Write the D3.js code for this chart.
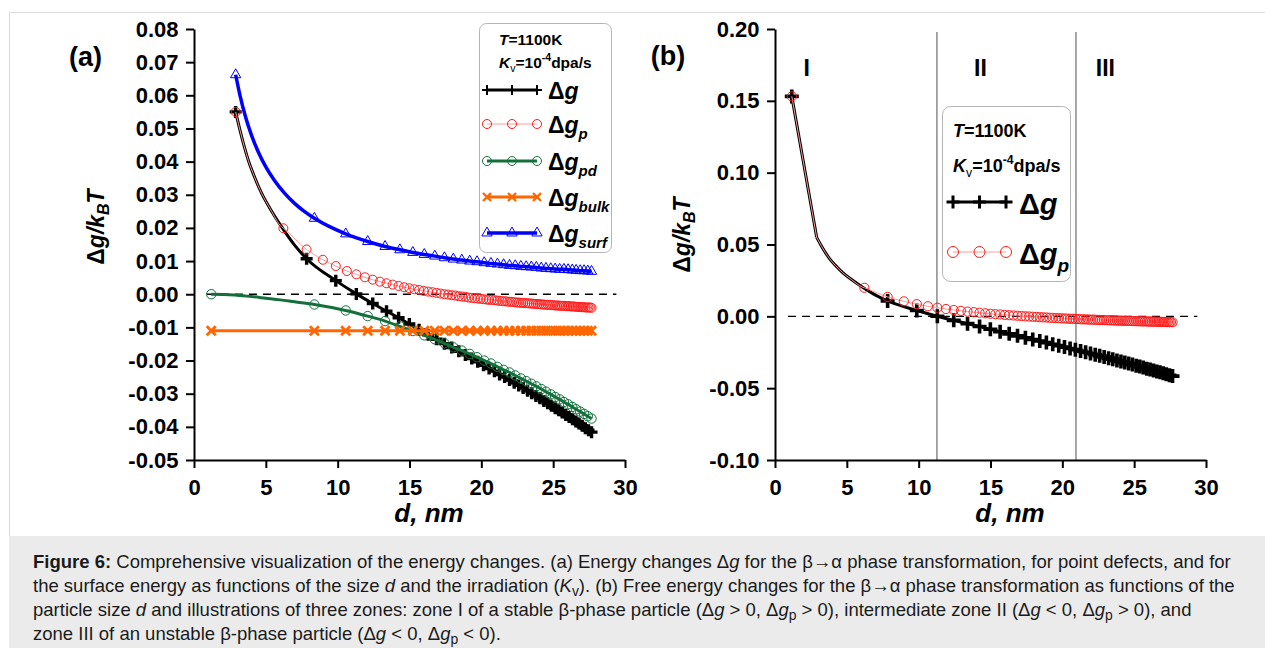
<!DOCTYPE html>
<html><head><meta charset="utf-8">
<script src="https://cdn.jsdelivr.net/npm/d3@7"></script>
<style>body{margin:0;background:#fff}svg{display:block}</style>
</head><body><svg id="c" width="1265" height="648"></svg>
<script>
// ---------------- data ----------------
const xTicks = [0, 5, 10, 15, 20, 25, 30];
const yTicksA = [-0.05, -0.04, -0.03, -0.02, -0.01, 0.00, 0.01, 0.02, 0.03, 0.04, 0.05, 0.06, 0.07, 0.08];
const yTicksB = [-0.10, -0.05, 0.00, 0.05, 0.10, 0.15, 0.20];
const zoneBounds = [11.27, 20.95];
const zoneLabels = ["I", "II", "III"];
const zoneLabelD = [2.2, 14.3, 23.0];

// Δg and Δg_p : shared head points
const dKnee = [2.9], vKnee = [0.055];          // first marker in (a), knee of the curve in (b)
const dTopB = [1.17], vTopB = [0.1531];        // first point in (b)
// curve-only points (no markers) between the knee and the first markers
const dCurve = [3.2, 3.5, 3.78, 4.2, 4.71, 5.3, 6.1, 7.0];
const vCurve = [0.0495, 0.0445, 0.0404, 0.0355, 0.0304, 0.0258, 0.0203, 0.0148];

// Δg_p (red circles)
const dGp = [6.22,7.84,8.97,9.87,10.64,11.30,11.90,12.44,12.94,13.40,
  13.83,14.24,14.63,14.99,15.34,15.67,15.99,16.30,16.60,16.88,
  17.16,17.43,17.69,17.94,18.19,18.43,18.66,18.89,19.11,19.33,
  19.54,19.75,19.95,20.15,20.35,20.54,20.73,20.91,21.09,21.27,
  21.45,21.62,21.79,21.96,22.12,22.29,22.45,22.60,22.76,22.91,
  23.07,23.22,23.36,23.51,23.65,23.80,23.94,24.08,24.21,24.35,
  24.49,24.62,24.75,24.88,25.01,25.14,25.26,25.39,25.51,25.63,
  25.76,25.88,26.00,26.11,26.23,26.35,26.46,26.58,26.69,26.80,
  26.91,27.02,27.13,27.24,27.35,27.46,27.56,27.67];
const vGp = [0.0199,0.0135,0.0104,0.0085,0.0070,0.0060,0.0051,0.0044,0.0038,0.0033,
  0.0029,0.0025,0.0021,0.0018,0.0015,0.0013,0.0010,0.0008,0.0006,0.0004,
  0.0002,0.0000,-0.0001,-0.0003,-0.0004,-0.0006,-0.0007,-0.0008,-0.0010,-0.0011,
  -0.0012,-0.0013,-0.0014,-0.0015,-0.0016,-0.0017,-0.0017,-0.0018,-0.0019,-0.0020,
  -0.0021,-0.0021,-0.0022,-0.0023,-0.0023,-0.0024,-0.0025,-0.0025,-0.0026,-0.0026,
  -0.0027,-0.0027,-0.0028,-0.0028,-0.0029,-0.0029,-0.0030,-0.0030,-0.0031,-0.0031,
  -0.0032,-0.0032,-0.0032,-0.0033,-0.0033,-0.0034,-0.0034,-0.0034,-0.0035,-0.0035,
  -0.0035,-0.0036,-0.0036,-0.0036,-0.0037,-0.0037,-0.0037,-0.0038,-0.0038,-0.0038,
  -0.0039,-0.0039,-0.0039,-0.0040,-0.0040,-0.0040,-0.0040,-0.0041];

// Δg (black plus)
const dG = [7.84,9.87,11.30,12.44,13.40,14.24,14.99,15.67,16.30,16.88,
  17.43,17.94,18.43,18.89,19.33,19.75,20.15,20.54,20.91,21.27,
  21.62,21.96,22.29,22.60,22.91,23.22,23.51,23.80,24.08,24.35,
  24.62,24.88,25.14,25.39,25.63,25.88,26.11,26.35,26.58,26.80,
  27.02,27.24,27.46,27.67];
const vG = [0.0107,0.0041,0.0001,-0.0028,-0.0051,-0.0071,-0.0090,-0.0107,-0.0122,-0.0136,
  -0.0149,-0.0161,-0.0172,-0.0183,-0.0194,-0.0204,-0.0214,-0.0224,-0.0232,-0.0242,
  -0.0250,-0.0259,-0.0267,-0.0275,-0.0283,-0.0291,-0.0299,-0.0307,-0.0314,-0.0322,
  -0.0329,-0.0336,-0.0344,-0.0350,-0.0357,-0.0364,-0.0370,-0.0377,-0.0384,-0.0390,
  -0.0397,-0.0404,-0.0410,-0.0416];

// Δg_pd, Δg_bulk, Δg_surf share one size grid
const dGrid = [8.38,10.56,12.09,13.30,14.33,15.23,16.03,16.76,17.43,18.05,
  18.64,19.19,19.70,20.20,20.67,21.12,21.55,21.96,22.36,22.75,
  23.12,23.48,23.83,24.17,24.50,24.83,25.14,25.45,25.75,26.04,
  26.33,26.60,26.88,27.15,27.41,27.67];
const dPdStart = [1.2], vPdStart = [0.0];
const dPdCurve = [2, 3, 4, 5, 6, 7];
const vPdCurve = [-0.0001, -0.0003, -0.0007, -0.0012, -0.0017, -0.0023];
const vPd = [-0.0031,-0.0049,-0.0066,-0.0081,-0.0097,-0.0111,-0.0124,-0.0136,-0.0148,-0.0160,
  -0.0170,-0.0180,-0.0190,-0.0200,-0.0209,-0.0219,-0.0228,-0.0236,-0.0245,-0.0254,
  -0.0262,-0.0270,-0.0278,-0.0286,-0.0294,-0.0302,-0.0310,-0.0317,-0.0325,-0.0332,
  -0.0340,-0.0347,-0.0354,-0.0361,-0.0368,-0.0375];
const dBulkStart = [1.2], vBulkStart = [-0.011];
const vBulk = [-0.011,-0.011,-0.011,-0.011,-0.011,-0.011,-0.011,-0.011,-0.011,-0.011,
  -0.011,-0.011,-0.011,-0.011,-0.011,-0.011,-0.011,-0.011,-0.011,-0.011,
  -0.011,-0.011,-0.011,-0.011,-0.011,-0.011,-0.011,-0.011,-0.011,-0.011,
  -0.011,-0.011,-0.011,-0.011,-0.011,-0.011];
const dSurfStart = [2.9], vSurfStart = [0.0662];
const dSurfCurve = [3.2, 3.6, 4.0, 4.5, 5.0, 5.6, 6.3, 7.0, 7.7];
const vSurfCurve = [0.0600, 0.0533, 0.0480, 0.0427, 0.0384, 0.0343, 0.0305, 0.0274, 0.0249];
const vSurf = [0.0229,0.0182,0.0159,0.0144,0.0134,0.0126,0.0120,0.0115,0.0110,0.0106,
  0.0103,0.0100,0.0098,0.0095,0.0093,0.0091,0.0089,0.0087,0.0086,0.0084,
  0.0083,0.0082,0.0081,0.0079,0.0078,0.0077,0.0076,0.0075,0.0075,0.0074,
  0.0073,0.0072,0.0071,0.0071,0.0070,0.0069];
const zeroLine = [0.9, 29.4];

// ---------------- drawing ----------------
const FONT = "'Liberation Sans', Arial, Helvetica, sans-serif";
const C = {black:"#000", red:"#ff1a1a", redLine:"#ff9a9a", green:"#13703b", orange:"#ff6600", blue:"#0000ff"};
const svg = d3.select("#c");
const pts = (ds, vs) => ds.map((d, i) => [d, vs[i]]);

// frame + caption box
svg.append("rect").attr("x", 9.5).attr("y", 12.5).attr("width", 1300).attr("height", 700)
  .attr("fill", "#fff").attr("stroke", "#dcdcdc");
svg.append("rect").attr("x", 9).attr("y", 536).attr("width", 1300).attr("height", 120).attr("fill", "#ebebeb");

function plus(g, x, y, s, w, col) {
  g.append("path").attr("d", `M${x - s},${y}H${x + s}M${x},${y - s}V${y + s}`)
    .attr("stroke", col).attr("stroke-width", w).attr("fill", "none");
}
function cross(g, x, y, s, w, col) {
  g.append("path").attr("d", `M${x - s},${y - s}L${x + s},${y + s}M${x - s},${y + s}L${x + s},${y - s}`)
    .attr("stroke", col).attr("stroke-width", w).attr("fill", "none");
}
function circ(g, x, y, r, col) {
  g.append("circle").attr("cx", x).attr("cy", y).attr("r", r)
    .attr("fill", "none").attr("stroke", col).attr("stroke-width", 1);
}
const triPath = d3.symbol().type(d3.symbolTriangle).size(46)();
function tri(g, x, y, col) {
  g.append("path").attr("d", triPath).attr("transform", `translate(${x},${y})`)
    .attr("fill", "none").attr("stroke", col).attr("stroke-width", 1);
}

function axes(g, x, y, yTicks, x0, yBottom) {
  const ax = g.append("g").attr("transform", `translate(0,${yBottom})`)
    .call(d3.axisBottom(x).tickValues(xTicks).tickFormat(d => String(d)).tickSize(8).tickSizeOuter(0).tickPadding(11.4));
  const ay = g.append("g").attr("transform", `translate(${x0},0)`)
    .call(d3.axisLeft(y).tickValues(yTicks).tickFormat(d => d.toFixed(2)).tickSize(8).tickSizeOuter(0).tickPadding(7.5));
  [ax, ay].forEach(a => {
    a.attr("font-family", FONT).attr("font-size", 22).attr("font-weight", "bold");
    a.select(".domain").attr("stroke-width", 2).attr("stroke", "#000");
    a.selectAll(".tick line").attr("stroke-width", 2).attr("stroke", "#000");
    a.selectAll(".tick text").attr("fill", "#000");
  });
}

function yTitle(g, xb, yc) {
  const t = g.append("text").attr("transform", `translate(${xb},${yc}) rotate(-90)`)
    .attr("text-anchor", "middle").attr("font-family", FONT).attr("font-weight", "bold").attr("font-size", 23);
  t.append("tspan").text("\u0394");
  t.append("tspan").attr("font-style", "italic").text("g/k");
  t.append("tspan").attr("font-style", "italic").attr("font-size", 16).attr("dy", 5).text("B");
  t.append("tspan").attr("font-style", "italic").attr("dy", -5).text("T");
}
function xTitle(g, xc, yb) {
  g.append("text").attr("x", xc).attr("y", yb).attr("text-anchor", "middle")
    .attr("font-family", FONT).attr("font-weight", "bold").attr("font-style", "italic").attr("font-size", 26)
    .text("d, nm");
}
function label(g, x, y, s, size) {
  g.append("text").attr("x", x).attr("y", y).attr("text-anchor", "middle")
    .attr("font-family", FONT).attr("font-weight", "bold").attr("font-size", size).text(s);
}
function dgText(g, x, y, size, sub, subSize, subDy) {
  const t = g.append("text").attr("x", x).attr("y", y).attr("font-family", FONT)
    .attr("font-weight", "bold").attr("font-size", size);
  t.append("tspan").text("\u0394");
  t.append("tspan").attr("font-style", "italic").text("g");
  if (sub) t.append("tspan").attr("font-style", "italic").attr("font-size", subSize).attr("dy", subDy).text(sub);
}
function condText(g, x, y1, y2, size) {
  const t1 = g.append("text").attr("x", x).attr("y", y1).attr("font-family", FONT)
    .attr("font-weight", "bold").attr("font-size", size);
  t1.append("tspan").attr("font-style", "italic").text("T");
  t1.append("tspan").text("=1100K");
  const t2 = g.append("text").attr("x", x).attr("y", y2).attr("font-family", FONT)
    .attr("font-weight", "bold").attr("font-size", size);
  t2.append("tspan").attr("font-style", "italic").text("K");
  t2.append("tspan").attr("font-weight", "normal").attr("font-size", size * 0.68).attr("dy", size * 0.25).text("v");
  t2.append("tspan").attr("dy", -size * 0.25).text("=10");
  t2.append("tspan").attr("font-size", size * 0.68).attr("dy", -size * 0.42).text("-4");
  t2.append("tspan").attr("dy", size * 0.42).text("dpa/s");
}

// ===== Chart (a) =====
const xA = d3.scaleLinear().domain([0, 30]).range([194, 625]);
const yA = d3.scaleLinear().domain([-0.05, 0.08]).range([460, 29]);
const gA = svg.append("g");
const lineA = d3.line().x(d => xA(d[0])).y(d => yA(d[1])).curve(d3.curveMonotoneX);

gA.append("path").datum(zeroLine.map(d => [d, 0])).attr("d", d3.line().x(d => xA(d[0])).y(d => yA(d[1])))
  .attr("stroke", "#000").attr("stroke-width", 1.3).attr("stroke-dasharray", "8,6").attr("fill", "none");

const blackA = pts(dKnee, vKnee).concat(pts(dCurve, vCurve), pts(dG, vG));
const redA = pts(dKnee, vKnee).concat(pts(dCurve, vCurve).filter(p => p[0] < dGp[0]), pts(dGp, vGp));
const greenA = pts(dPdStart, vPdStart).concat(pts(dPdCurve, vPdCurve), pts(dGrid, vPd));
const orangeA = pts(dBulkStart, vBulkStart).concat(pts(dGrid, vBulk));
const blueA = pts(dSurfStart, vSurfStart).concat(pts(dSurfCurve, vSurfCurve), pts(dGrid, vSurf));

gA.append("path").attr("d", lineA(blackA)).attr("stroke", C.black).attr("stroke-width", 3).attr("fill", "none");
pts(dKnee, vKnee).concat(pts(dG, vG)).forEach(p => plus(gA, xA(p[0]), yA(p[1]), 6, 3.4, C.black));
gA.append("path").attr("d", lineA(redA)).attr("stroke", C.redLine).attr("stroke-width", 1).attr("fill", "none");
pts(dKnee, vKnee).concat(pts(dGp, vGp)).forEach(p => circ(gA, xA(p[0]), yA(p[1]), 4.5, C.red));
gA.append("path").attr("d", lineA(greenA)).attr("stroke", C.green).attr("stroke-width", 3).attr("fill", "none");
pts(dPdStart, vPdStart).concat(pts(dGrid, vPd)).forEach(p => circ(gA, xA(p[0]), yA(p[1]), 4.7, C.green));
gA.append("path").attr("d", lineA(orangeA)).attr("stroke", C.orange).attr("stroke-width", 3).attr("fill", "none");
pts(dBulkStart, vBulkStart).concat(pts(dGrid, vBulk)).forEach(p => cross(gA, xA(p[0]), yA(p[1]), 4.5, 2.8, C.orange));
gA.append("path").attr("d", lineA(blueA)).attr("stroke", C.blue).attr("stroke-width", 3.5).attr("fill", "none");
pts(dSurfStart, vSurfStart).concat(pts(dGrid, vSurf)).forEach(p => tri(gA, xA(p[0]), yA(p[1]), C.blue));

axes(gA, xA, yA, yTicksA, 194, 460);
yTitle(gA, 104, 227);
xTitle(gA, 429, 522);
label(gA, 85.5, 66, "(a)", 27);

// legend (a)
gA.append("rect").attr("x", 479.5).attr("y", 23.5).attr("width", 132).attr("height", 229).attr("rx", 7)
  .attr("fill", "#fff").attr("stroke", "#b5b5b5");
condText(gA, 499, 45, 68, 15.5);
const legA = [
  {y: 90, sub: null, draw: (x, y) => plus(gA, x, y, 5, 2, C.black), col: C.black, w: 3},
  {y: 124, sub: "p", draw: (x, y) => circ(gA, x, y, 4.5, C.red), col: C.redLine, w: 1},
  {y: 161, sub: "pd", draw: (x, y) => circ(gA, x, y, 4.5, C.green), col: C.green, w: 3},
  {y: 197, sub: "bulk", draw: (x, y) => cross(gA, x, y, 4, 2.4, C.orange), col: C.orange, w: 3},
  {y: 233, sub: "surf", draw: (x, y) => tri(gA, x, y, C.blue), col: C.blue, w: 3.5}
];
legA.forEach(r => {
  gA.append("line").attr("x1", 487).attr("x2", 537).attr("y1", r.y).attr("y2", r.y)
    .attr("stroke", r.col).attr("stroke-width", r.w);
  [487, 512, 537].forEach(x => r.draw(x, r.y));
  dgText(gA, 548, r.y + 9, 23, r.sub, 15, 6);
});

// ===== Chart (b) =====
const xB = d3.scaleLinear().domain([0, 30]).range([775, 1206]);
const yB = d3.scaleLinear().domain([-0.10, 0.20]).range([460, 29]);
const gB = svg.append("g");
const lineB = d3.line().x(d => xB(d[0])).y(d => yB(d[1])).curve(d3.curveMonotoneX);
const lineBStraight = d3.line().x(d => xB(d[0])).y(d => yB(d[1]));

gB.append("path").datum(zeroLine.map(d => [d, 0])).attr("d", lineBStraight)
  .attr("stroke", "#000").attr("stroke-width", 1.3).attr("stroke-dasharray", "8,6").attr("fill", "none");
zoneBounds.forEach(d => {
  gB.append("line").attr("x1", xB(d)).attr("x2", xB(d)).attr("y1", 32).attr("y2", yB(-0.10))
    .attr("stroke", "#8a8a8a").attr("stroke-width", 1.5);
});
zoneLabels.forEach((s, i) => label(gB, xB(zoneLabelD[i]), 76, s, 23));

// straight segment from the first point to the knee, then the smooth curve
const headB = pts(dTopB, vTopB).concat(pts(dKnee, vKnee));
const blackB = pts(dKnee, vKnee).concat(pts(dCurve, vCurve), pts(dG, vG));
const redB = pts(dKnee, vKnee).concat(pts(dCurve, vCurve).filter(p => p[0] < dGp[0]), pts(dGp, vGp));
gB.append("path").attr("d", lineBStraight(headB)).attr("stroke", C.black).attr("stroke-width", 3)
  .attr("stroke-linejoin", "round").attr("fill", "none");
gB.append("path").attr("d", lineB(blackB)).attr("stroke", C.black).attr("stroke-width", 3).attr("fill", "none");
pts(dTopB, vTopB).concat(pts(dG, vG)).forEach(p => plus(gB, xB(p[0]), yB(p[1]), 7, 3.6, C.black));
gB.append("path").attr("d", lineBStraight(headB)).attr("stroke", C.redLine).attr("stroke-width", 1).attr("fill", "none");
gB.append("path").attr("d", lineB(redB)).attr("stroke", C.redLine).attr("stroke-width", 1).attr("fill", "none");
pts(dTopB, vTopB).concat(pts(dGp, vGp)).forEach(p => circ(gB, xB(p[0]), yB(p[1]), 4.6, C.red));

axes(gB, xB, yB, yTicksB, 775, 460);
yTitle(gB, 690, 235);
xTitle(gB, 1010, 522);
label(gB, 668, 65, "(b)", 27);

// legend (b)
gB.append("rect").attr("x", 942.5).attr("y", 106.5).attr("width", 128).attr("height", 175).attr("rx", 8)
  .attr("fill", "#fff").attr("stroke", "#b5b5b5");
condText(gB, 953, 137, 172, 18);
gB.append("line").attr("x1", 953).attr("x2", 1006).attr("y1", 202).attr("y2", 202).attr("stroke", C.black).attr("stroke-width", 3);
[953, 979.5, 1006].forEach(x => plus(gB, x, 202, 6.5, 3, C.black));
dgText(gB, 1019, 214, 29, null);
gB.append("line").attr("x1", 953).attr("x2", 1006).attr("y1", 252).attr("y2", 252).attr("stroke", C.redLine).attr("stroke-width", 1);
[953, 979.5, 1006].forEach(x => circ(gB, x, 252, 5.5, C.red));
dgText(gB, 1019, 264, 29, "p", 19, 8);

// ===== caption =====
const capLines = [
  [["Figure 6:", "b"], [" Comprehensive visualization of the energy changes. (a) Energy changes \u0394", ""], ["g", "i"], [" for the \u03b2\u2192\u03b1 phase transformation, for point defects, and for", ""]],
  [["the surface energy as functions of the size ", ""], ["d", "i"], [" and the irradiation (", ""], ["K", "i"], ["v", "sub"], ["). (b) Free energy changes for the \u03b2\u2192\u03b1 phase transformation as functions of the", ""]],
  [["particle size ", ""], ["d", "i"], [" and illustrations of three zones: zone I of a stable \u03b2-phase particle (\u0394", ""], ["g", "i"], [" > 0, \u0394", ""], ["g", "i"], ["p", "sub"], [" > 0), intermediate zone II (\u0394", ""], ["g", "i"], [" < 0, \u0394", ""], ["g", "i"], ["p", "sub"], [" > 0), and", ""]],
  [["zone III of an unstable \u03b2-phase particle (\u0394", ""], ["g", "i"], [" < 0, \u0394", ""], ["g", "i"], ["p", "sub"], [" < 0).", ""]]
];
const capG = svg.append("g");
const capTexts = capLines.map((segs, li) => {
  const t = capG.append("text").attr("x", 33).attr("y", 568 + li * 24)
    .attr("font-family", FONT).attr("font-size", 16).attr("fill", "#1a1a1a");
  let shifted = false;
  segs.forEach(([s, st]) => {
    const sp = t.append("tspan").text(s);
    if (st === "b") sp.attr("font-weight", "bold");
    if (st === "i") sp.attr("font-style", "italic");
    if (st === "sub") { sp.attr("font-size", "0.75em").attr("dy", 4); shifted = true; }
    else if (shifted) { sp.attr("dy", -4); shifted = false; }
  });
  return t;
});
const len0 = capTexts[0].node().getComputedTextLength();
const fs = 16 * 1199 / len0;
capTexts.forEach(t => t.attr("font-size", fs));
</script></body></html>
